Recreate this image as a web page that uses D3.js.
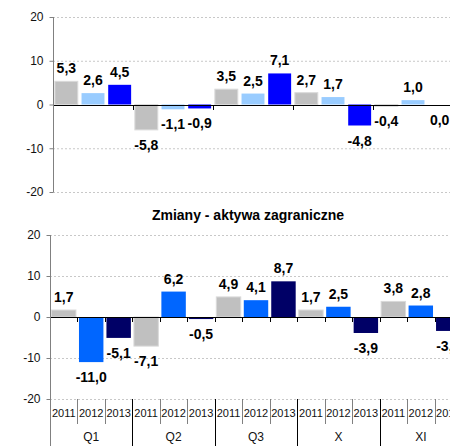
<!DOCTYPE html>
<html>
<head>
  <meta charset="utf-8">
  <script src="https://d3js.org/d3.v7.min.js"></script>
  <style>
    body { margin: 0; background: #fff; }
    svg { display: block; font-family: Arial, "Liberation Sans", sans-serif; }
  </style>
</head>
<body>
  <div id="my_dataviz"></div>
<script>

  // data
  var groups = ["Q1", "Q2", "Q3", "X", "XI"];
  var years = ["2011", "2012", "2013"];
  var yTicks = [-20, -10, 0, 10, 20];
  var topValues = [5.3, 2.6, 4.5, -5.8, -1.1, -0.9, 3.5, 2.5, 7.1, 2.7, 1.7, -4.8, -0.4, 1.0, 0.0];
  var bottomValues = [1.7, -11.0, -5.1, -7.1, 6.2, -0.5, 4.9, 4.1, 8.7, 1.7, 2.5, -3.9, 3.8, 2.8, -3.4];
  var topColors = ["#c0c0c0", "#99ccff", "#0000ff"];
  var bottomColors = ["#c0c0c0", "#0066ff", "#000066"];
  var bottomTitle = "Zmiany - aktywa zagraniczne";

  var width = 450, height = 446;

  var svg = d3.select("#my_dataviz")
    .append("svg")
      .attr("width", width)
      .attr("height", height);

  // comma decimals, plain hyphen for minus
  var fmt = function(v) { return d3.format(".1f")(v).replace(".", ",").replace("\u2212", "-"); };
  var fmtTick = function(v) { return d3.format("d")(v).replace("\u2212", "-"); };

  // build rows: one per group/year
  function rows(values) {
    var out = [];
    groups.forEach(function(g, gi) {
      years.forEach(function(yr, yi) {
        out.push({ key: g + "-" + yr, group: g, year: yr, yi: yi, value: values[gi * 3 + yi] });
      });
    });
    return out;
  }

  function panel(opt) {
    var data = rows(opt.values);
    var g = svg.append("g");

    var x = d3.scaleBand()
      .domain(data.map(function(d) { return d.key; }))
      .range([opt.x0, opt.x1])
      .paddingInner(opt.pad)
      .paddingOuter(opt.pad / 2);

    var xg = d3.scaleBand()
      .domain(groups)
      .range([opt.x0, opt.x1]);

    var y = d3.scaleLinear()
      .domain([-20, 20])
      .range([opt.yBot, opt.yTop]);

    // dashed gridlines
    g.selectAll(".grid")
      .data(yTicks.filter(function(t) { return t !== 0; }))
      .enter().append("line")
        .attr("x1", opt.x0)
        .attr("x2", width)
        .attr("y1", function(d) { return y(d) + 0.5; })
        .attr("y2", function(d) { return y(d) + 0.5; })
        .attr("stroke", "#c8c8c8")
        .attr("stroke-dasharray", "2,2");

    // bars
    g.selectAll(".bar")
      .data(data)
      .enter().append("rect")
        .attr("x", function(d) { return x(d.key); })
        .attr("width", x.bandwidth())
        .attr("y", function(d) { return y(Math.max(0, d.value)); })
        .attr("height", function(d) { return Math.abs(y(d.value) - y(0)); })
        .attr("fill", function(d) { return opt.colors[d.yi]; })
        .attr("stroke", function(d) { return d.yi === 0 ? "#dadada" : "none"; })
        .attr("stroke-width", 1);

    // zero line
    g.append("line")
      .attr("x1", opt.x0).attr("x2", width)
      .attr("y1", Math.round(y(0)) + 0.5).attr("y2", Math.round(y(0)) + 0.5)
      .attr("stroke", "#000");

    // small ticks on the zero line
    var tickXs = opt.minorTicks
      ? d3.range(1, data.length).map(function(i) { return opt.x0 + i * x.step(); })
      : groups.slice(1).map(function(d) { return xg(d); });
    g.selectAll(".zt")
      .data(tickXs)
      .enter().append("line")
        .attr("x1", function(d) { return Math.round(d) + 0.5; })
        .attr("x2", function(d) { return Math.round(d) + 0.5; })
        .attr("y1", Math.round(y(0)))
        .attr("y2", Math.round(y(0)) + 5)
        .attr("stroke", "#000");

    // y axis
    var ya = g.append("g")
      .attr("transform", "translate(" + (opt.x0 + 0.5) + ",0)")
      .call(d3.axisLeft(y).tickValues(yTicks).tickFormat(fmtTick)
        .tickSize(4).tickSizeOuter(0).tickPadding(6));
    ya.select(".domain").remove();
    ya.selectAll(".tick line").attr("stroke", "#808080");
    ya.selectAll(".tick text")
      .attr("font-size", "12px")
      .attr("font-family", "Arial, 'Liberation Sans', sans-serif")
      .attr("fill", "#111");
    g.append("line")
      .attr("x1", opt.x0 + 0.5).attr("x2", opt.x0 + 0.5)
      .attr("y1", opt.yTop).attr("y2", opt.axisEnd)
      .attr("stroke", "#808080");

    // value labels
    g.selectAll(".lbl")
      .data(data)
      .enter().append("text")
        .attr("x", function(d) { return x(d.key) + x.bandwidth() / 2; })
        .attr("y", function(d) {
          return d.value > 0 ? y(d.value) - 8 : y(d.value) + 20;
        })
        .attr("text-anchor", "middle")
        .attr("font-size", "14px")
        .attr("font-weight", "bold")
        .attr("fill", "#000")
        .text(function(d) { return fmt(d.value); });

    return { x: x, xg: xg, y: y };
  }

  // top panel
  panel({ values: topValues, colors: topColors, x0: 53, x1: 453, yTop: 17, yBot: 192,
          pad: 0.14, minorTicks: false, axisEnd: 192 });

  // bottom title
  svg.append("text")
    .attr("x", 248)
    .attr("y", 220)
    .attr("text-anchor", "middle")
    .attr("font-size", "14px")
    .attr("font-weight", "bold")
    .text(bottomTitle);

  // bottom panel
  var b = panel({ values: bottomValues, colors: bottomColors, x0: 50, x1: 462, yTop: 235, yBot: 399,
                  pad: 0.11, minorTicks: true, axisEnd: 446 });

  // category axis below the bottom panel
  var cat = svg.append("g");
  var step = b.x.step();
  var slots = d3.range(bottomValues.length);
  cat.selectAll(".sep")
    .data(slots.slice(1))
    .enter().append("line")
      .attr("x1", function(i) { return Math.round(50 + i * step) + 0.5; })
      .attr("x2", function(i) { return Math.round(50 + i * step) + 0.5; })
      .attr("y1", 399)
      .attr("y2", function(i) { return i % 3 === 0 ? 446 : 424; })
      .attr("stroke", function(i) { return i % 3 === 0 ? "#000" : "#808080"; });

  cat.selectAll(".yr")
    .data(slots)
    .enter().append("text")
      .attr("x", function(i) { return 50 + (i + 0.5) * step; })
      .attr("y", 417)
      .attr("text-anchor", "middle")
      .attr("font-size", "11px")
      .attr("fill", "#111")
      .text(function(i) { return years[i % 3]; });

  cat.selectAll(".grp")
    .data(groups)
    .enter().append("text")
      .attr("x", function(d) { return b.xg(d) + b.xg.bandwidth() / 2; })
      .attr("y", 441)
      .attr("text-anchor", "middle")
      .attr("font-size", "12px")
      .attr("fill", "#111")
      .text(function(d) { return d; });

</script>
</body>
</html>
